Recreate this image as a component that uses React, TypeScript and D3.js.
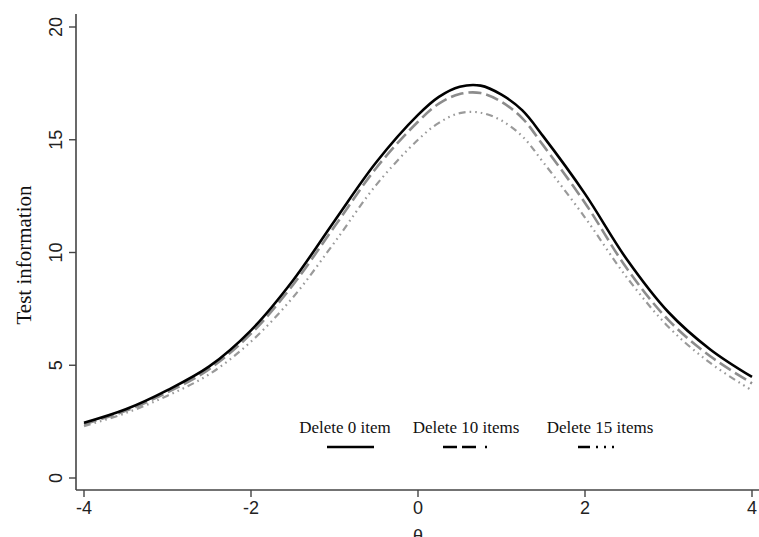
import React from "react";
import * as d3 from "d3";

const theta = [-4, -3.5, -3, -2.5, -2, -1.5, -1, -0.5, 0, 0.25, 0.5, 0.75, 1, 1.25, 1.5, 2, 2.5, 3, 3.5, 4];
const delete0 = [2.45, 3.05, 3.9, 4.95, 6.55, 8.75, 11.4, 14.0, 16.1, 16.9, 17.35, 17.4, 17.0, 16.3, 15.15, 12.6, 9.7, 7.35, 5.7, 4.48];
const delete10 = [2.38, 2.98, 3.8, 4.83, 6.4, 8.55, 11.15, 13.75, 15.8, 16.6, 17.03, 17.07, 16.68, 15.95, 14.75, 12.2, 9.3, 7.0, 5.4, 4.2];
const delete15 = [2.3, 2.88, 3.65, 4.6, 6.05, 8.0, 10.45, 13.0, 15.0, 15.75, 16.18, 16.2, 15.85, 15.15, 14.0, 11.55, 8.9, 6.7, 5.1, 3.88];
const xTicks = [-4, -2, 0, 2, 4];
const yTicks = [0, 5, 10, 15, 20];
const legendLabels = ["Delete 0 item", "Delete 10 items", "Delete 15 items"];

const W = 759;
const H = 537;

export default function App() {
  const x = d3.scaleLinear().domain([-4, 4]).range([84, 752]);
  const y = d3.scaleLinear().domain([0, 20]).range([478, 27]);
  const line = (vals: number[]) =>
    d3
      .line<number>()
      .x((_, i) => x(theta[i]))
      .y((d) => y(d))
      .curve(d3.curveCatmullRom.alpha(0.5))(vals) as string;

  const series = [
    { vals: delete15, stroke: "#9a9a9a", width: 2.2, dash: "7,4,1.6,4,1.6,4,1.6,4" },
    { vals: delete10, stroke: "#8c8c8c", width: 2.6, dash: "13,5" },
    { vals: delete0, stroke: "#000", width: 2.6, dash: undefined },
  ];
  const legend = [
    { label: legendLabels[0], cx: 345, x1: 327, x2: 374, dash: undefined },
    { label: legendLabels[1], cx: 466, x1: 443, x2: 500, dash: "14,5,14,9,2,30" },
    { label: legendLabels[2], cx: 600, x1: 578, x2: 630, dash: "12,6,2,6,2,6,2,30" },
  ];
  const axisColor = "#444";
  const sans = "'Liberation Sans', Arial, sans-serif";
  const serif = "'Liberation Serif', 'Times New Roman', serif";

  return (
    <svg width={W} height={H} style={{ position: "absolute", left: 0, top: 0, background: "#fff" }}>
      <rect x={0} y={0} width={W} height={H} fill="#fff" />
      {/* axes */}
      <line x1={76} x2={76} y1={14} y2={490} stroke={axisColor} strokeWidth={1.6} />
      <line x1={76} x2={759} y1={490} y2={490} stroke={axisColor} strokeWidth={1.6} />
      {yTicks.map((t) => (
        <g key={"y" + t}>
          <line x1={69} x2={76} y1={y(t)} y2={y(t)} stroke={axisColor} strokeWidth={1.4} />
          <text
            transform={`translate(62,${y(t)}) rotate(-90)`}
            textAnchor="middle"
            fontFamily={sans}
            fontSize={18}
            fill="#222"
          >
            {t}
          </text>
        </g>
      ))}
      {xTicks.map((t) => (
        <g key={"x" + t}>
          <line x1={x(t)} x2={x(t)} y1={490} y2={497} stroke={axisColor} strokeWidth={1.4} />
          <text x={x(t)} y={514} textAnchor="middle" fontFamily={sans} fontSize={18} fill="#222">
            {t}
          </text>
        </g>
      ))}
      <text x={x(0)} y={542} textAnchor="middle" fontFamily={sans} fontSize={18} fill="#222">
        θ
      </text>
      <text
        transform={`translate(31,255) rotate(-90)`}
        textAnchor="middle"
        fontFamily={serif}
        fontSize={21}
        fill="#111"
      >
        Test information
      </text>
      {/* curves */}
      {series.map((s, i) => (
        <path
          key={i}
          d={line(s.vals)}
          fill="none"
          stroke={s.stroke}
          strokeWidth={s.width}
          strokeDasharray={s.dash}
          strokeLinecap="butt"
        />
      ))}
      {/* legend */}
      {legend.map((l, i) => (
        <g key={"l" + i}>
          <text x={l.cx} y={433} textAnchor="middle" fontFamily={serif} fontSize={17} fill="#111">
            {l.label}
          </text>
          <line x1={l.x1} x2={l.x2} y1={447} y2={447} stroke="#000" strokeWidth={2.6} strokeDasharray={l.dash} />
        </g>
      ))}
    </svg>
  );
}
